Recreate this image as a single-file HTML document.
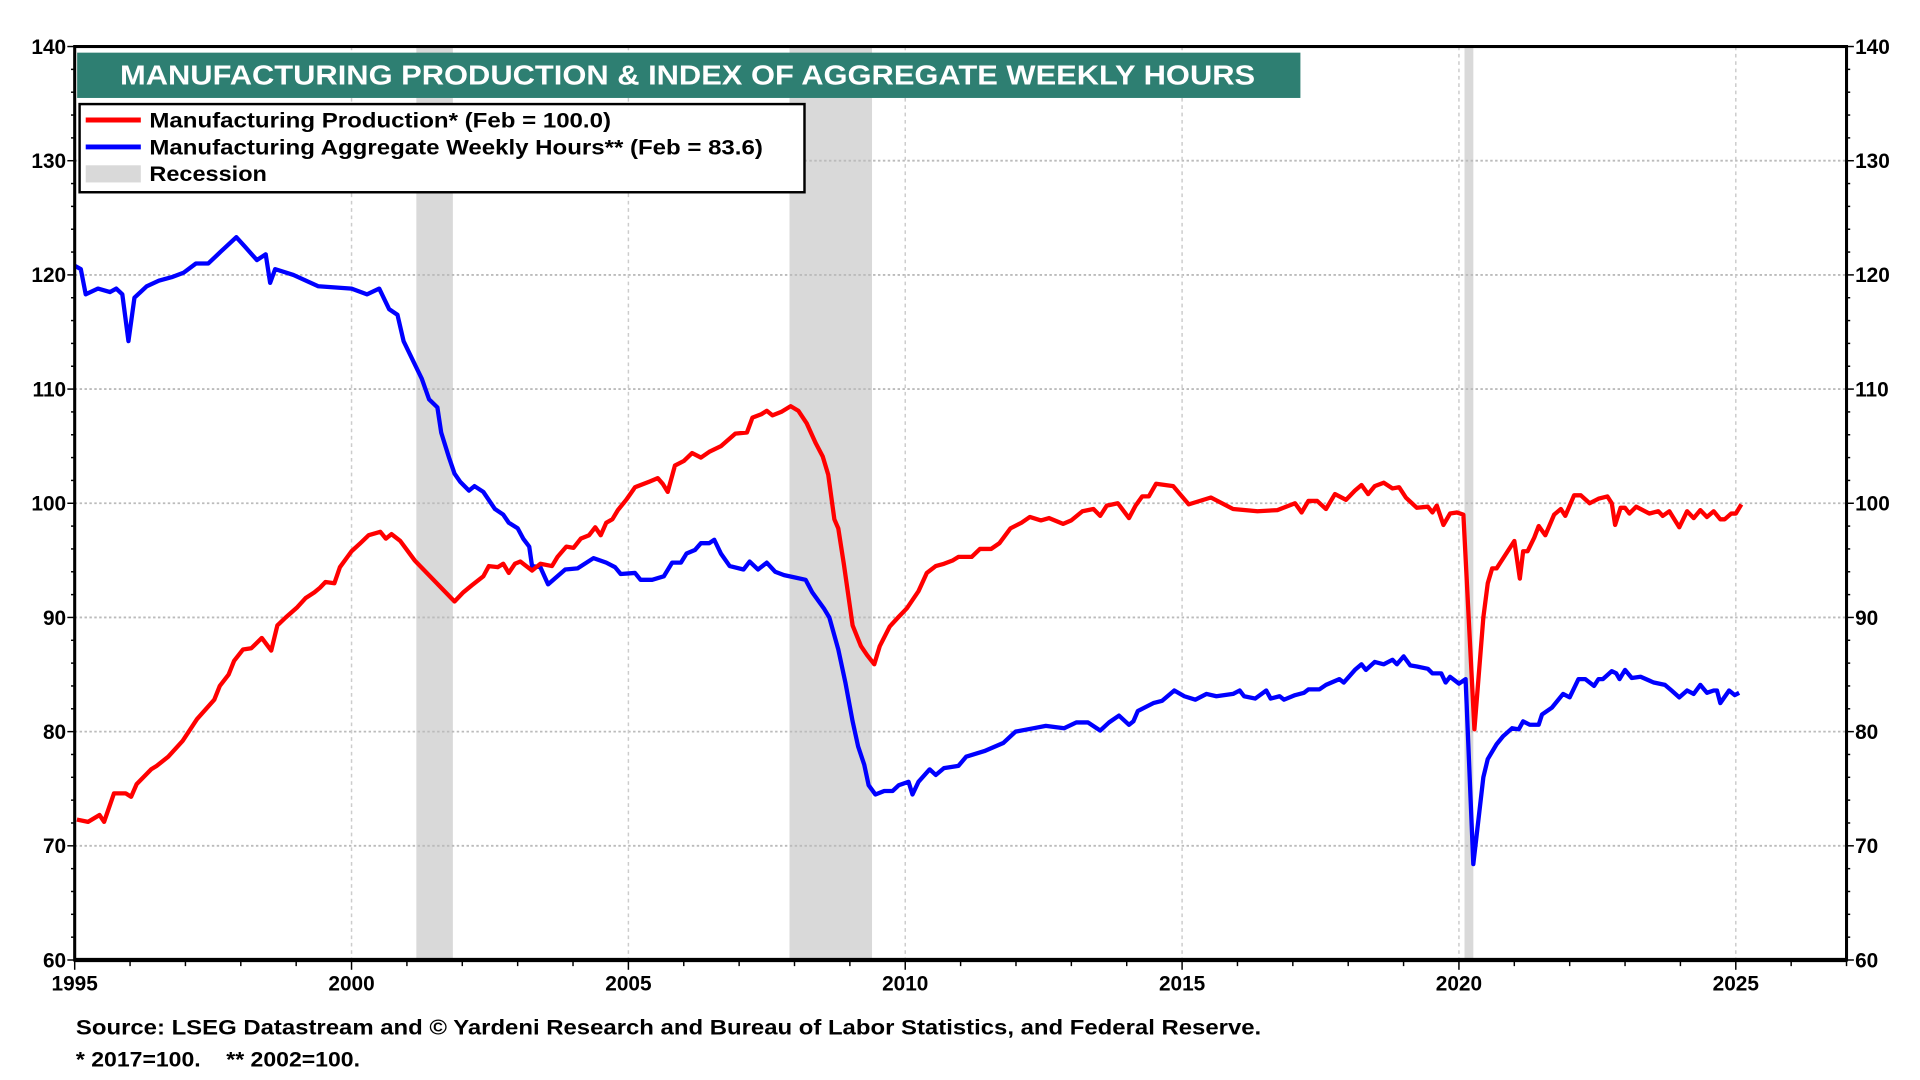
<!DOCTYPE html>
<html><head><meta charset="utf-8"><style>
html,body{margin:0;padding:0;background:#fff;}
svg{display:block;font-family:"Liberation Sans",Arial,sans-serif;font-weight:bold;}
</style></head><body>
<svg id="chart" width="1920" height="1080" viewBox="0 0 1568 882" xmlns="http://www.w3.org/2000/svg">
<g id="rec"></g><g id="grid"></g><g id="series"></g><g id="axes"></g>
<rect x="63" y="43" width="999" height="37" fill="#2e7f72"/>
<text x="98" y="69" font-size="22.5" fill="#fff" textLength="927" lengthAdjust="spacingAndGlyphs">MANUFACTURING PRODUCTION &amp; INDEX OF AGGREGATE WEEKLY HOURS</text>
<g>
<rect x="65" y="85" width="592" height="72" fill="#fff" stroke="#000" stroke-width="2"/>
<line x1="70" y1="98" x2="115" y2="98" stroke="#f00" stroke-width="4"/>
<text x="122" y="104" font-size="17.5" textLength="377" lengthAdjust="spacingAndGlyphs">Manufacturing Production* (Feb = 100.0)</text>
<line x1="70" y1="120" x2="115" y2="120" stroke="#00f" stroke-width="4"/>
<text x="122" y="126" font-size="17.5" textLength="501" lengthAdjust="spacingAndGlyphs">Manufacturing Aggregate Weekly Hours** (Feb = 83.6)</text>
<rect x="70" y="135" width="45" height="14" fill="#d9d9d9"/>
<text x="122" y="148" font-size="17.5" textLength="96" lengthAdjust="spacingAndGlyphs">Recession</text>
</g>
<text x="62" y="845" font-size="17" textLength="968" lengthAdjust="spacingAndGlyphs">Source: LSEG Datastream and © Yardeni Research and Bureau of Labor Statistics, and Federal Reserve.</text>
<text x="62" y="871" font-size="17" xml:space="preserve" textLength="232" lengthAdjust="spacingAndGlyphs">* 2017=100.    ** 2002=100.</text>
</svg>
<script>
const recStart=[2001.17,2007.91,2020.1];
const recEnd=[2001.83,2009.4,2020.26];
const yTicks=[60,70,80,90,100,110,120,130,140];
const xTicks=[1995,2000,2005,2010,2015,2020,2025];
const prodYears=[1995.04,1995.24,1995.45,1995.53,1995.71,1995.92,1996.02,1996.12,1996.38,1996.48,1996.69,1996.95,1997.21,1997.52,1997.62,1997.78,1997.88,1998.04,1998.19,1998.38,1998.55,1998.66,1998.81,1999.02,1999.17,1999.33,1999.43,1999.53,1999.69,1999.79,2000.0,2000.16,2000.31,2000.52,2000.62,2000.72,2000.88,2001.14,2001.86,2002.02,2002.17,2002.38,2002.48,2002.64,2002.74,2002.84,2002.95,2003.05,2003.26,2003.41,2003.62,2003.72,2003.88,2004.01,2004.14,2004.29,2004.4,2004.5,2004.6,2004.71,2004.81,2004.96,2005.12,2005.38,2005.53,2005.62,2005.71,2005.84,2006.0,2006.15,2006.31,2006.46,2006.67,2006.93,2007.14,2007.24,2007.4,2007.5,2007.6,2007.76,2007.93,2008.07,2008.22,2008.38,2008.51,2008.61,2008.72,2008.79,2008.89,2009.05,2009.2,2009.31,2009.44,2009.54,2009.72,2009.87,2010.03,2010.24,2010.39,2010.55,2010.7,2010.86,2010.96,2011.2,2011.35,2011.55,2011.7,2011.9,2012.1,2012.25,2012.45,2012.6,2012.85,2013.0,2013.2,2013.4,2013.52,2013.64,2013.84,2014.04,2014.16,2014.28,2014.4,2014.53,2014.84,2015.12,2015.52,2015.92,2016.36,2016.72,2017.04,2017.16,2017.28,2017.44,2017.6,2017.76,2017.96,2018.12,2018.24,2018.36,2018.48,2018.64,2018.8,2018.92,2019.04,2019.24,2019.44,2019.52,2019.6,2019.72,2019.84,2019.96,2020.08,2020.28,2020.44,2020.52,2020.6,2020.68,2021.0,2021.1,2021.16,2021.24,2021.36,2021.44,2021.56,2021.72,2021.84,2021.92,2022.08,2022.2,2022.36,2022.52,2022.68,2022.76,2022.82,2022.92,2023.0,2023.08,2023.2,2023.44,2023.6,2023.68,2023.8,2023.98,2024.12,2024.24,2024.36,2024.48,2024.6,2024.72,2024.8,2024.92,2025.0,2025.1];
const prodValues=[72.3,72.1,72.7,72.1,74.6,74.6,74.3,75.4,76.7,77,77.8,79.2,81.1,82.8,84,85,86.2,87.2,87.3,88.2,87.1,89.3,90,90.9,91.7,92.2,92.6,93.1,93,94.4,95.8,96.5,97.2,97.5,96.9,97.3,96.7,95,91.4,92.2,92.8,93.6,94.5,94.4,94.7,93.9,94.7,94.9,94.1,94.7,94.5,95.3,96.2,96.1,96.9,97.2,97.9,97.2,98.3,98.6,99.4,100.3,101.4,101.9,102.2,101.7,101,103.3,103.7,104.4,104,104.5,105,106.1,106.2,107.5,107.8,108.1,107.7,108,108.5,108.1,107,105.3,104.1,102.5,98.6,97.8,94.7,89.3,87.5,86.7,85.9,87.5,89.2,90,90.8,92.3,93.9,94.5,94.7,95,95.3,95.3,96,96,96.5,97.8,98.3,98.8,98.5,98.7,98.2,98.5,99.3,99.5,98.9,99.8,100,98.7,99.8,100.6,100.6,101.7,101.5,99.9,100.5,99.5,99.3,99.4,100,99.2,100.2,100.2,99.5,100.8,100.3,101.1,101.6,100.8,101.5,101.8,101.3,101.4,100.5,99.6,99.7,99.2,99.8,98.1,99.1,99.2,99.0,80.2,90,93,94.3,94.3,96.7,93.4,95.8,95.8,97,98,97.2,99,99.5,98.9,100.7,100.7,100,100.4,100.6,100,98.1,99.6,99.6,99.1,99.7,99.1,99.3,98.9,99.3,97.9,99.3,98.7,99.4,98.8,99.3,98.6,98.6,99.1,99.1,99.9];
const hoursYears=[1995.0,1995.11,1995.2,1995.42,1995.64,1995.75,1995.86,1995.97,1996.08,1996.3,1996.52,1996.75,1996.97,1997.19,1997.41,1997.63,1997.92,1998.07,1998.29,1998.45,1998.53,1998.62,1998.95,1999.4,2000.0,2000.28,2000.5,2000.68,2000.83,2000.94,2001.16,2001.27,2001.4,2001.55,2001.62,2001.76,2001.86,2001.96,2002.12,2002.22,2002.38,2002.59,2002.74,2002.84,2003.0,2003.1,2003.21,2003.26,2003.41,2003.55,2003.67,2003.86,2004.08,2004.37,2004.6,2004.76,2004.86,2005.12,2005.22,2005.43,2005.64,2005.79,2005.95,2006.05,2006.2,2006.31,2006.46,2006.55,2006.67,2006.83,2007.08,2007.19,2007.34,2007.5,2007.65,2007.81,2008.01,2008.2,2008.32,2008.53,2008.63,2008.79,2008.92,2009.05,2009.15,2009.26,2009.34,2009.46,2009.62,2009.77,2009.88,2010.06,2010.13,2010.24,2010.44,2010.55,2010.7,2010.96,2011.1,2011.43,2011.77,2011.99,2012.32,2012.54,2012.87,2013.09,2013.3,2013.52,2013.68,2013.86,2014.04,2014.12,2014.2,2014.48,2014.64,2014.86,2015.04,2015.24,2015.44,2015.62,2015.92,2016.04,2016.12,2016.32,2016.52,2016.6,2016.76,2016.84,2017.04,2017.2,2017.28,2017.48,2017.6,2017.84,2017.92,2018.12,2018.24,2018.32,2018.48,2018.64,2018.8,2018.88,2019.0,2019.12,2019.24,2019.44,2019.52,2019.68,2019.76,2019.84,2020.0,2020.12,2020.26,2020.44,2020.52,2020.68,2020.8,2020.96,2021.08,2021.16,2021.28,2021.44,2021.5,2021.68,2021.88,2022.0,2022.16,2022.28,2022.44,2022.52,2022.6,2022.76,2022.84,2022.9,2023.0,2023.12,2023.28,2023.52,2023.72,2023.84,2023.98,2024.12,2024.24,2024.36,2024.48,2024.6,2024.66,2024.72,2024.88,2024.98,2025.06];
const hoursValues=[120.8,120.5,118.3,118.8,118.5,118.8,118.3,114.2,118,119,119.5,119.8,120.2,121,121,122,123.3,122.5,121.3,121.8,119.3,120.5,120,119,118.8,118.3,118.8,117,116.5,114.2,112,110.9,109.1,108.4,106.2,104,102.6,101.9,101.1,101.5,101,99.5,99,98.3,97.8,96.9,96.2,94.5,94.4,92.9,93.4,94.2,94.3,95.2,94.8,94.4,93.8,93.9,93.3,93.3,93.6,94.8,94.8,95.6,95.9,96.5,96.5,96.8,95.6,94.5,94.2,94.9,94.2,94.8,94,93.7,93.5,93.3,92.2,90.8,90,87.2,84.3,80.9,78.7,77.1,75.3,74.5,74.8,74.8,75.3,75.6,74.5,75.6,76.7,76.2,76.8,77,77.8,78.3,79,80,80.3,80.5,80.3,80.8,80.8,80.1,80.8,81.4,80.6,80.9,81.8,82.5,82.7,83.6,83.1,82.8,83.3,83.1,83.3,83.6,83.1,82.9,83.6,82.9,83.1,82.8,83.2,83.4,83.7,83.7,84.1,84.6,84.3,85.4,85.9,85.4,86.1,85.9,86.3,85.9,86.6,85.8,85.7,85.5,85.1,85.1,84.3,84.8,84.2,84.6,68.4,76.0,77.6,78.9,79.6,80.3,80.2,80.9,80.6,80.6,81.5,82.1,83.3,83.0,84.6,84.6,84.0,84.6,84.6,85.3,85.1,84.6,85.4,84.7,84.8,84.3,84.1,83.6,83.0,83.6,83.3,84.1,83.4,83.6,83.6,82.5,83.6,83.2,83.4];

const NS="http://www.w3.org/2000/svg";
const L=61,R=1508,T=38,B=784;
const xS=y=>L+(y-1995)*(R-L)/32;
const yS=v=>B-(v-60)*(B-T)/80;
function mk(tag,attrs,parent){const e=document.createElementNS(NS,tag);for(const k in attrs)e.setAttribute(k,attrs[k]);parent.appendChild(e);return e;}
const rec=document.getElementById('rec'),grid=document.getElementById('grid'),ser=document.getElementById('series'),ax=document.getElementById('axes');
recStart.forEach((s,i)=>{
 const r=mk('rect',{x:xS(s),y:T,width:xS(recEnd[i])-xS(s),height:B-T,fill:'#d9d9d9'},rec);
 
 
});
yTicks.forEach(v=>{
 if(v>60&&v<140){const g=mk('line',{x1:L,x2:R,y1:yS(v),y2:yS(v),stroke:'#bbb','stroke-width':1.5,'stroke-dasharray':'2,2'},grid);
 
 }
 const t1=mk('text',{x:L-7,y:yS(v)+6,'font-size':17,'text-anchor':'end'},ax);t1.textContent=v;
 
 
 const t2=mk('text',{x:R+7,y:yS(v)+6,'font-size':17},ax);t2.textContent=v;
 
 
});
for(let v=60;v<=140;v+=2){const len=v%10===0?6:3;
 mk('line',{x1:L-len,x2:L,y1:yS(v),y2:yS(v),stroke:'#000','stroke-width':1.2},ax);
 mk('line',{x1:R,x2:R+len,y1:yS(v),y2:yS(v),stroke:'#000','stroke-width':1.2},ax);}
xTicks.forEach(y=>{
 if(y>1995){const g=mk('line',{x1:xS(y),x2:xS(y),y1:T,y2:B,stroke:'#ccc','stroke-width':1.2,'stroke-dasharray':'3,3'},grid);
 
 }
 const t=mk('text',{x:xS(y),y:B+25,'font-size':17,'text-anchor':'middle'},ax);t.textContent=y;
 
 
});
for(let y=1995;y<=2027;y++){mk('line',{x1:xS(y),x2:xS(y),y1:B,y2:B+(y%5===0?8:5),stroke:'#000','stroke-width':1.2},ax);}
const frame=mk('rect',{x:L,y:T,width:R-L,height:B-T,fill:'none',stroke:'#000','stroke-width':2.5},ax);


mk('line',{x1:L,x2:R,y1:B,y2:B,stroke:'#000','stroke-width':3.5},ax);
function line(xs,vs,color,name){
 const d=xs.map((x,i)=>(i?'L':'M')+xS(x).toFixed(1)+','+yS(vs[i]).toFixed(1)).join('');
 const p=mk('path',{d:d,fill:'none',stroke:color,'stroke-width':3.5,'stroke-linejoin':'round'},ser);
 
 
}
line(hoursYears,hoursValues,'#0000ff','hours-line');
line(prodYears,prodValues,'#ff0000','production-line');
</script>
</body></html>
